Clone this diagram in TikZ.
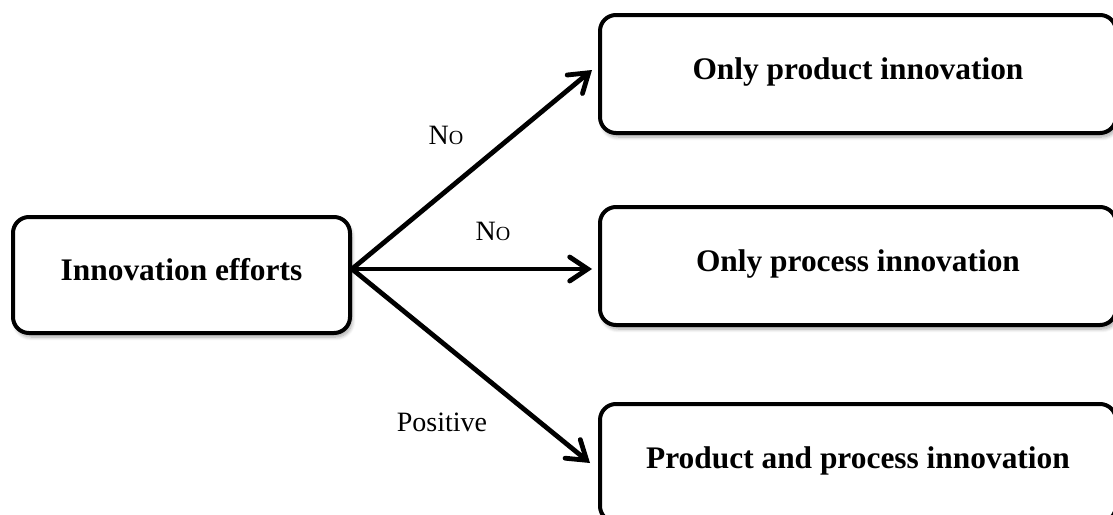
\documentclass[tikz,border=0pt]{standalone}
\usepackage{fontspec}
\setmainfont{Liberation Serif}
\usetikzlibrary{positioning,arrows.meta,shadows.blur}

\tikzset{
  stage/.style={draw, line width=2pt, rounded corners=8pt, fill=white,
    font=\fontsize{15.7}{18}\selectfont\bfseries,
    text height=11pt, text depth=6pt,
    blur shadow={shadow xshift=1pt, shadow yshift=-2pt, shadow blur steps=8, shadow opacity=35}},
  effortbox/.style={stage, minimum width=168.5pt, minimum height=58pt},
  outcome/.style={stage, minimum width=258pt, minimum height=59pt},
  branch/.style={line width=2.4pt, line cap=round,
    -{Straight Barb[length=9pt, width=12pt, line cap=round]}},
  decision/.style={font=\fontsize{14}{16}\selectfont, inner sep=0pt}
}

\begin{document}
\begin{tikzpicture}[x=0.5pt, y=0.5pt]

    \useasboundingbox (0,0) rectangle (1113,-514);

    % Define nodes

    \node[effortbox]                                   (effort)   at (181.5,-275) {Innovation efforts}; %
    \node[outcome, right=123pt of effort, yshift=4.5pt] (proconly) {Only process innovation}; %
    \node[outcome, above=35pt of proconly]             (prodonly) {Only product innovation}; %
    \node[outcome, below=37.5pt of proconly]           (both)     {Product and process innovation}; %

    \coordinate (fork) at ([yshift=3pt]effort.east); %

    % Connect the nodes
    \draw[branch] (fork) -- ([xshift=-3pt, yshift=2pt]prodonly.west) ;
    \draw[branch] (fork) -- ([xshift=-3pt]fork -| proconly.west) ;
    \draw[branch] (fork) -- ([xshift=-4pt]both.west) ;

    % Labels
    \node[decision] (nolabel1)  at (446,-135) {N{\fontsize{10}{12}\selectfont O}}; %
    \node[decision] (nolabel2)  at (493,-231) {N{\fontsize{10}{12}\selectfont O}}; %
    \node[decision] (poslabel)  at (442,-422) {Positive}; %

  \end{tikzpicture}
\end{document}
